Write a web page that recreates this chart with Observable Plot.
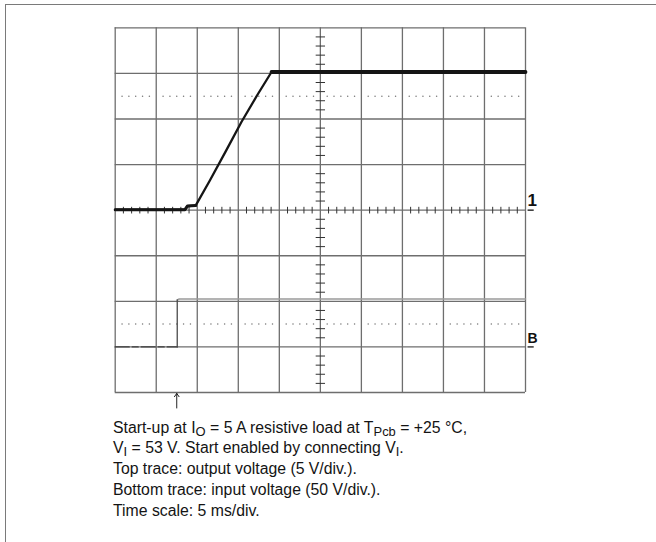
<!DOCTYPE html>
<html><head><meta charset="utf-8">
<script src="https://cdn.jsdelivr.net/npm/d3@7"></script>
<script src="https://cdn.jsdelivr.net/npm/@observablehq/plot@0.6"></script>
<style>
html,body{margin:0;padding:0;background:#fff;width:656px;height:542px;overflow:hidden;}
#frame{position:absolute;left:5px;top:4px;width:700px;height:600px;border-top:1.6px solid #7a7a7a;border-left:1.6px solid #7a7a7a;}
#chart{position:absolute;left:0;top:0;}
#caption{position:absolute;left:113px;top:417.5px;font-family:"Liberation Sans",Arial,sans-serif;font-size:15.8px;line-height:20.75px;color:#141414;white-space:nowrap;}
#caption sub{font-size:0.82em;vertical-align:-0.26em;line-height:0;}
</style></head><body>
<div id="frame"></div>
<div id="chart"></div>
<div id="caption"></div>
<script>
// Oscilloscope settings
const msPerDiv = 5;            // time scale
const ch1VoltsPerDiv = 5;      // top trace
const chBVoltsPerDiv = 50;     // bottom trace
const ch1RefDiv = 0;           // ground marker "1"
const chBRefDiv = -3;          // ground marker "B"
const triggerMs = 7.5;         // arrow
const markerLabels = ["1", "B"];
const markerLevels = [ch1RefDiv, chBRefDiv];

// Top trace: output voltage (ms, V)
const topTime  = [0,    8.5,  8.8,  9.8,  11.5, 13.5, 15.4, 17.3, 19.05, 50];
const topVolts = [0.05, 0.05, 0.45, 0.5,  3.2,  6.5,  9.7,  12.6, 15.15, 15.15];

// Bottom trace: input voltage (ms, V)
const botTimePre  = [0, 7.56];
const botVoltsPre = [0, 0];
const botTimeRise  = [7.56, 7.56];
const botVoltsRise = [0,    51.5];
const botTimePost  = [7.56, 7.8,  50];
const botVoltsPost = [51.5, 52.5, 52.5];

const captionLines = [
  "Start-up at I<sub>O</sub> = 5 A resistive load at T<sub>Pcb</sub> = +25 °C,",
  "V<sub>I</sub> = 53 V. Start enabled by connecting V<sub>I</sub>.",
  "Top trace: output voltage (5 V/div.).",
  "Bottom trace: input voltage (50 V/div.).",
  "Time scale: 5 ms/div."
];

// Build tables
const topTrace = topTime.map((t, i) => ({t, div: ch1RefDiv + topVolts[i] / ch1VoltsPerDiv}));
const plateauStart = topTime[topTime.length - 2];
const rampStart = topTime[3];
const toB = (times, volts) => times.map((t, i) => ({t, div: chBRefDiv + volts[i] / chBVoltsPerDiv}));
const botPre = toB(botTimePre, botVoltsPre);
const botRise = toB(botTimeRise, botVoltsRise);
const botPost = toB(botTimePost, botVoltsPost);
const markers = markerLabels.map((label, i) => ({label, level: markerLevels[i]}));

// Graticule
const majorX = d3.range(0, 10 * msPerDiv + 0.001, msPerDiv);
const majorY = d3.range(-4, 4.001, 1);
const minorX = d3.range(0, 50.001, msPerDiv / 5).filter(v => Math.abs(v / msPerDiv - Math.round(v / msPerDiv)) > 1e-6);
const minorY = d3.range(-4, 4.001, 0.2).filter(v => Math.abs(v - Math.round(v)) > 1e-6);
const dotPts = [];
for (const lvl of [2.5, -2.5]) for (let i = 0; i < 10; i++) for (let j = 1; j <= 5; j++) dotPts.push({x: (i + j / 6) * msPerDiv, y: lvl});

const gridColor = "#6e6e6e";
const xMid = 5 * msPerDiv;

const chart = Plot.plot({
  width: 656, height: 410,
  marginLeft: 114.7, marginRight: 131, marginTop: 27.3, marginBottom: 18,
  x: {domain: [0, 10 * msPerDiv], axis: null},
  y: {domain: [-4, 4], axis: null},
  style: {background: "transparent", overflow: "visible", fontFamily: "Liberation Sans, Arial, sans-serif"},
  marks: [
    Plot.ruleX(majorX, {stroke: gridColor, strokeWidth: 1.3}),
    Plot.ruleY(majorY, {stroke: gridColor, strokeWidth: 1.3}),
    Plot.link(minorX, {x1: d => d, x2: d => d, y1: -0.073, y2: 0.073, stroke: "#333", strokeWidth: 1}),
    Plot.link(minorY, {y1: d => d, y2: d => d, x1: xMid - 0.57, x2: xMid + 0.57, stroke: "#333", strokeWidth: 1}),
    Plot.dot(dotPts, {x: "x", y: "y", r: 0.75, fill: "#777", stroke: null}),
    Plot.line(botPost, {x: "t", y: "div", stroke: "#9a9a9a", strokeWidth: 1.5}),
    Plot.line(botPre, {x: "t", y: "div", stroke: "#3c3c3c", strokeWidth: 1.3, strokeDasharray: "14 3 6 3"}),
    Plot.line(botRise, {x: "t", y: "div", stroke: "#4a4a4a", strokeWidth: 1.3}),
    Plot.line(topTrace, {x: "t", y: "div", stroke: "#151515", strokeWidth: 2.3}),
    Plot.line(topTrace.filter(d => d.t <= rampStart), {x: "t", y: "div", stroke: "#151515", strokeWidth: 3}),
    Plot.line(topTrace.filter(d => d.t >= plateauStart), {x: "t", y: "div", stroke: "#151515", strokeWidth: 3.8}),
    Plot.link(markers, {x1: 10 * msPerDiv + 0.25, x2: 10 * msPerDiv + 1.0, y1: "level", y2: "level", stroke: "#222", strokeWidth: 1.4}),
    Plot.text(markers, {x: 10 * msPerDiv, y: "level", text: "label", textAnchor: "start", lineAnchor: "bottom", dx: 2, dy: -4, fontSize: d => d.label === "1" ? 17 : 14, fill: "#111", fontWeight: "bold"}),
    Plot.arrow([triggerMs], {x1: d => d, x2: d => d, y1: -4.34, y2: -4.02, stroke: "#222", strokeWidth: 1, headLength: 6, headAngle: 70, insetStart: 0, insetEnd: 0})
  ]
});
document.getElementById("chart").appendChild(chart);
document.getElementById("caption").innerHTML = captionLines.map(l => `<div>${l}</div>`).join("");
</script>
</body></html>
